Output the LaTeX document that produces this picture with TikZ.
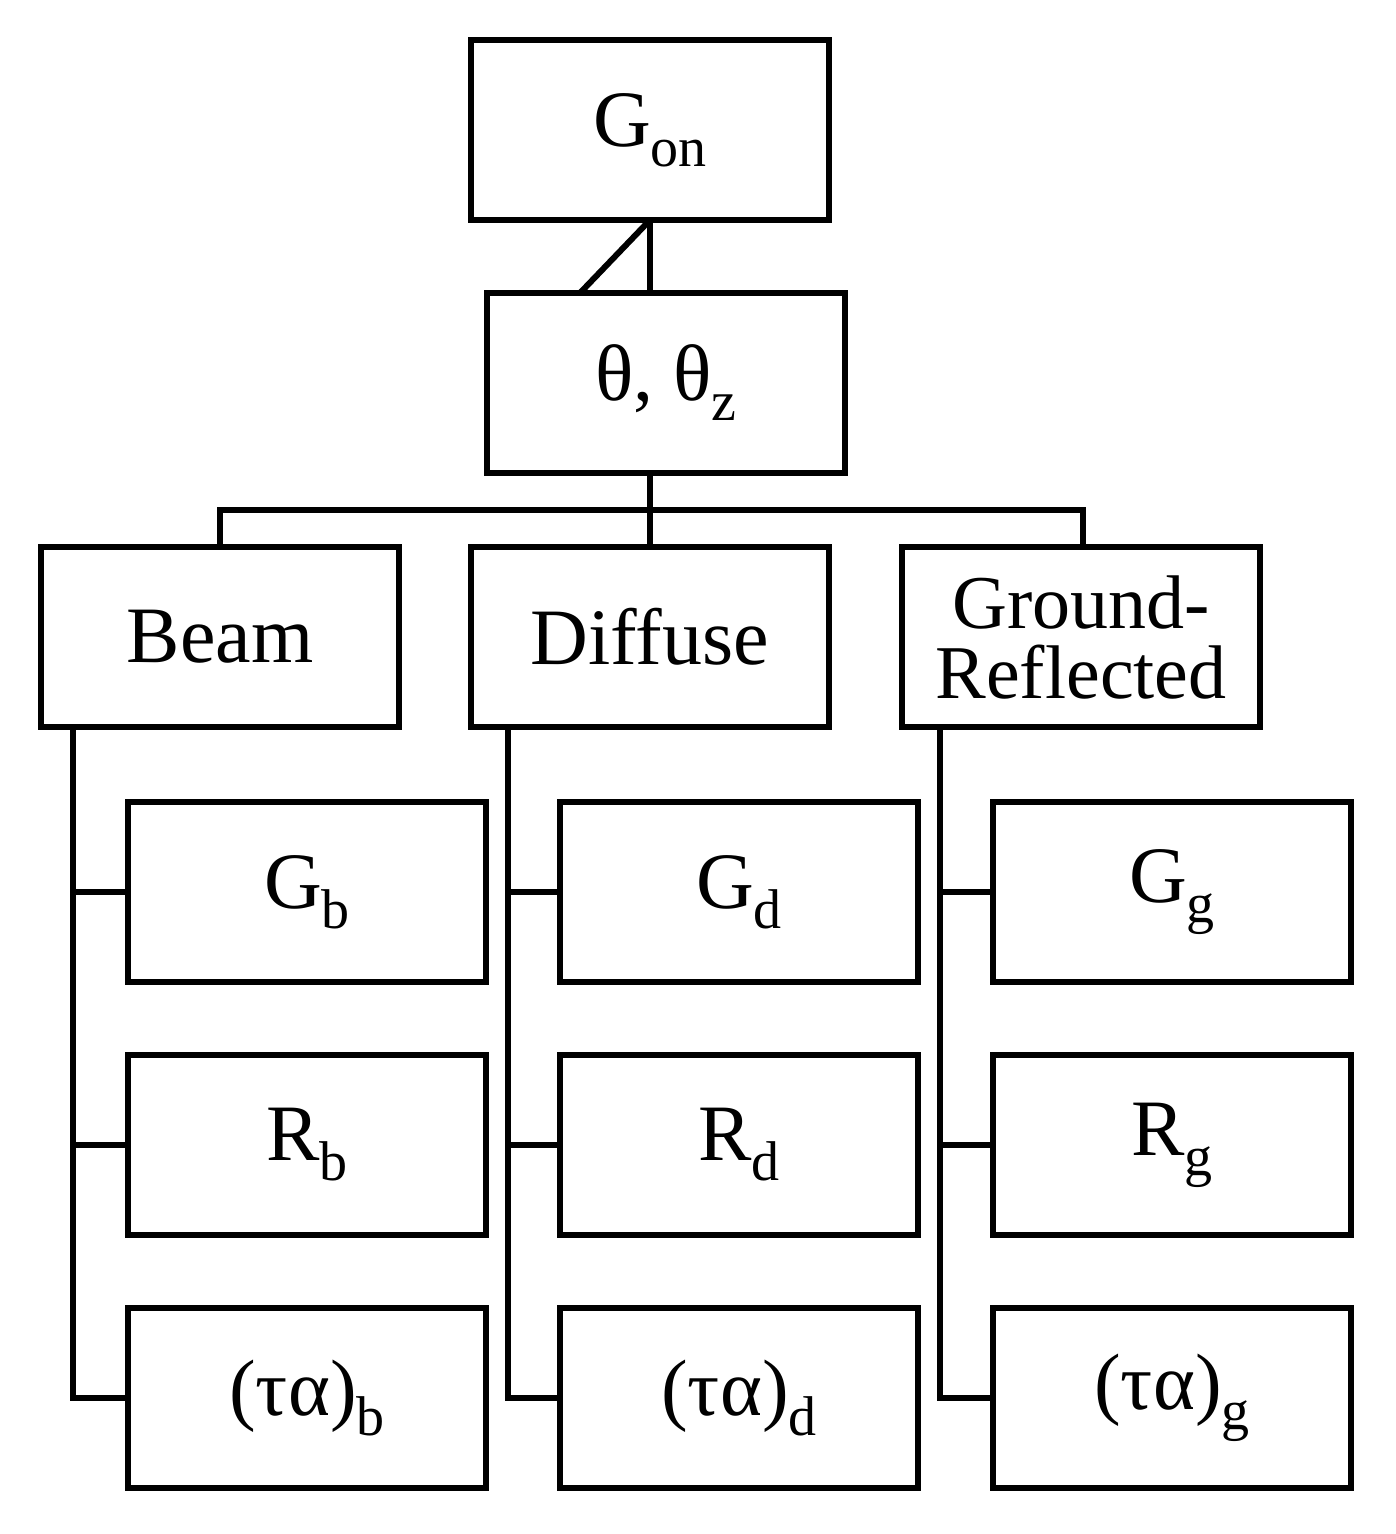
\documentclass[tikz,border=0pt]{standalone}
\usepackage{fontspec}
\setmainfont{Liberation Serif}
\newcommand{\sbx}[1]{\raisebox{-0.25em}{\fontsize{56}{58}\selectfont #1}}
\begin{document}
\begin{tikzpicture}[x=1pt,y=-1pt,line width=6pt,
 box/.style={draw,line width=6pt,minimum width=358pt,minimum height=180pt,inner sep=0pt,font=\fontsize{80}{84}\selectfont,align=center},
 ln/.style={line width=6pt}]
\useasboundingbox (0,0) rectangle (1396,1534);
\node[box] (gon) at (650,130) {G\sbx{on}};
\node[box] (th) at (666,383) {θ, θ\sbx{z}};
\node[box] (beam) at (220,637) {Beam};
\node[box] (dif) at (650,637) {Diffuse};
\node[box,font=\fontsize{76}{70}\selectfont] (gr) at (1081,637) {Ground-\\Reflected};
\foreach \c/\x/\s in {1/307/b,2/739/d,3/1172/g}{
 \node[box] (g\c) at (\x,892) {G\sbx{\s}};
 \node[box] (r\c) at (\x,1145) {R\sbx{\s}};
 \node[box] (t\c) at (\x,1398) {(τα)\sbx{\s}};
}
\draw[ln] (650,220) -- (650,293);
\draw[ln] (650,220) -- (580,293);
\draw[ln] (650,473) -- (650,545);
\draw[ln] (220,545) -- (220,510) -- (1083,510) -- (1083,545);
\foreach \c/\x in {1/73,2/508,3/940}{
 \draw[ln] (\x,729) -- (\x,1398) -- (t\c.west);
 \draw[ln] (\x,892) -- (g\c.west);
 \draw[ln] (\x,1145) -- (r\c.west);
}
\end{tikzpicture}
\end{document}
